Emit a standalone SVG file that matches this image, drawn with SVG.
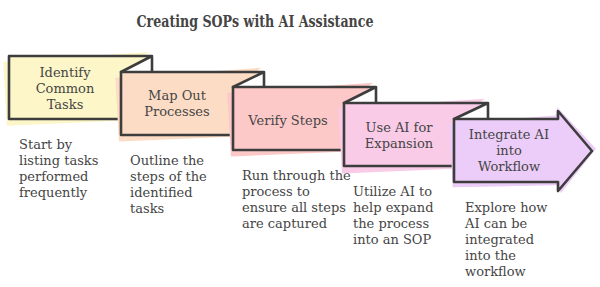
<svg xmlns="http://www.w3.org/2000/svg" width="600" height="287" viewBox="0 0 600 287">
<style>
.t{font-family:"DejaVu Serif","Liberation Serif",serif;font-size:13px;fill:#454545}
.c{text-anchor:middle}
.title{font-family:"DejaVu Serif","Liberation Serif",serif;font-size:16px;font-weight:bold;fill:#444;text-anchor:middle}
.ol{fill:none;stroke:#3d3d3d;stroke-width:2.6;stroke-linejoin:round;stroke-linecap:round}
</style>
<rect width="600" height="287" fill="#fff"/>
<text class="title" x="255" y="27" textLength="237" lengthAdjust="spacingAndGlyphs">Creating SOPs with AI Assistance</text>
<g id="n1">
<polygon points="4,60 150,54 122,74 124,122 6,124" fill="#fcf6c8" transform="rotate(-1.5 70 90)"/>
<polygon points="9,56 152,56 121,72 121,119 9,119" fill="#fcf6c8"/>
<path class="ol" d="M121,119 H9 V56 H152 V72 M152,56 L121,72"/>
<text class="t c" x="65" y="77">Identify</text>
<text class="t c" x="65" y="93">Common</text>
<text class="t c" x="65" y="109">Tasks</text>
<text class="t" x="19" y="149">Start by</text>
<text class="t" x="19" y="165">listing tasks</text>
<text class="t" x="19" y="181">performed</text>
<text class="t" x="19" y="197">frequently</text>
</g>
<g id="n2">
<polygon points="116,76 262,70 234,90 236,138 118,140" fill="#fcdcc4" transform="rotate(-1.5 180 105)"/>
<polygon points="121,72 264,72 233,87 233,135 121,135" fill="#fcdcc4"/>
<path class="ol" d="M233,135 H121 V72 H264 V87 M264,72 L233,87"/>
<text class="t c" x="177" y="100">Map Out</text>
<text class="t c" x="177" y="116">Processes</text>
<text class="t" x="130" y="165">Outline the</text>
<text class="t" x="130" y="181">steps of the</text>
<text class="t" x="130" y="197">identified</text>
<text class="t" x="130" y="213">tasks</text>
</g>
<g id="n3">
<polygon points="228,91 374,85 346,105 348,153 230,155" fill="#fcc8c8" transform="rotate(-1.5 290 120)"/>
<polygon points="233,87 376,87 344,103 344,150 233,150" fill="#fcc8c8"/>
<path class="ol" d="M344,150 H233 V87 H376 V103 M376,87 L344,103"/>
<text class="t c" x="288" y="125">Verify Steps</text>
<text class="t" x="242" y="180">Run through the</text>
<text class="t" x="242" y="196">process to</text>
<text class="t" x="242" y="212">ensure all steps</text>
<text class="t" x="242" y="228">are captured</text>
</g>
<g id="n4">
<polygon points="339,107 486,101 456,121 458,170 341,172" fill="#f9cbe6" transform="rotate(-1.5 400 136)"/>
<polygon points="344,103 488,103 454,119 454,166 344,166" fill="#f9cbe6"/>
<path class="ol" d="M454,166 H344 V103 H488 V119 M488,103 L454,119"/>
<text class="t c" x="399" y="132">Use AI for</text>
<text class="t c" x="399" y="148">Expansion</text>
<text class="t" x="353" y="196">Utilize AI to</text>
<text class="t" x="353" y="212">help expand</text>
<text class="t" x="353" y="228">the process</text>
<text class="t" x="353" y="244">into an SOP</text>
</g>
<g id="n5">
<polygon points="450,123 556,116 558,108 596,150 560,194 558,186 452,186" fill="#ecccf8" transform="rotate(-1 520 150)"/>
<polygon points="454,119 558,119 558,111 592,151 558,191 558,182 454,182" fill="#ecccf8"/>
<path class="ol" d="M454,119 H558 V111 L592,151 L558,191 V182 H454 Z"/>
<text class="t c" x="509" y="139">Integrate AI</text>
<text class="t c" x="509" y="155">into</text>
<text class="t c" x="509" y="171">Workflow</text>
<text class="t" x="465" y="212">Explore how</text>
<text class="t" x="465" y="228">AI can be</text>
<text class="t" x="465" y="244">integrated</text>
<text class="t" x="465" y="260">into the</text>
<text class="t" x="465" y="276">workflow</text>
</g>
<g id="connectors"></g>
</svg>
